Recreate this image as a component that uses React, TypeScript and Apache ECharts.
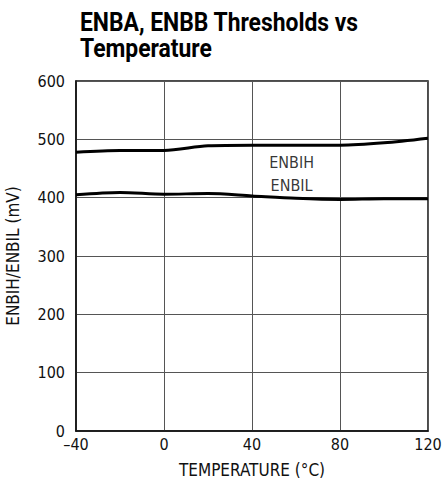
import React, { useEffect, useRef } from "react";
import * as echarts from "echarts";

const temps = [-40, -20, 0, 20, 40, 60, 80, 100, 120];
const enbih = [478, 481, 481, 489, 490, 490, 490, 494, 502];
const enbil = [405, 409, 406, 407, 403, 399, 397, 398, 398];
const xTicks = { min: -40, max: 120, interval: 40 };
const yTicks = { min: 0, max: 600, interval: 100 };
const seriesLabels = ["ENBIH", "ENBIL"];
const labelPos = [[58, 461], [58, 421]];
const titleLines = ["ENBA, ENBB Thresholds vs", "Temperature"];

const FONT = "'Liberation Sans Narrow', 'DejaVu Sans Condensed', 'Roboto', sans-serif";
const TFONT = "Roboto, 'Noto Sans', sans-serif";

export default function App() {
  const ref = useRef<HTMLDivElement>(null);
  useEffect(() => {
    const chart = echarts.init(ref.current!, null, { renderer: "svg" });
    chart.setOption({
      animation: false,
      backgroundColor: "#fff",
      textStyle: { fontFamily: FONT, color: "#000" },
      graphic: titleLines.map((t, i) => ({
        type: "text",
        x: 80,
        y: 9 + i * 26,
        scaleX: 0.88,
        style: {
          text: t,
          fontFamily: TFONT,
          fontWeight: "bold",
          fontSize: 26,
          fill: "#000",
          textVerticalAlign: "top",
        },
      })),
      grid: {
        left: 76, right: 14, top: 81, bottom: 58,
        outerBoundsMode: "none", containLabel: false,
        show: true, borderColor: "#111", borderWidth: 1.5,
      },
      xAxis: {
        type: "value",
        ...xTicks,
        name: "TEMPERATURE (°C)",
        nameLocation: "middle",
        nameGap: 30,
        nameTextStyle: { fontFamily: FONT, fontSize: 17, color: "#111" },
        axisLine: { show: true, onZero: false, lineStyle: { color: "#111", width: 1.5 } },
        axisTick: { show: false },
        axisLabel: {
          fontFamily: FONT, fontSize: 16, color: "#111", margin: 5,
          formatter: (v: number) => (v < 0 ? "\u2013" + Math.abs(v) : String(v)),
        },
        splitLine: { show: true, lineStyle: { color: "#555", width: 1 } },
      },
      yAxis: {
        type: "value",
        ...yTicks,
        name: "ENBIH/ENBIL (mV)",
        nameLocation: "middle",
        nameGap: 55,
        nameTextStyle: { fontFamily: FONT, fontSize: 17, color: "#111" },
        axisLine: { show: true, onZero: false, lineStyle: { color: "#111", width: 1.5 } },
        axisTick: { show: false },
        axisLabel: { fontFamily: FONT, fontSize: 16, color: "#111", margin: 11 },
        splitLine: { show: true, lineStyle: { color: "#555", width: 1 } },
      },
      series: [
        {
          name: seriesLabels[0],
          type: "line",
          data: temps.map((t, i) => [t, enbih[i]]),
          smooth: 0.3,
          symbol: "none",
          lineStyle: { color: "#000", width: 3 },
        },
        {
          name: seriesLabels[1],
          type: "line",
          data: temps.map((t, i) => [t, enbil[i]]),
          smooth: 0.3,
          symbol: "none",
          lineStyle: { color: "#000", width: 3 },
        },
        {
          type: "scatter",
          symbolSize: 0,
          silent: true,
          data: seriesLabels.map((s, i) => ({ value: labelPos[i], name: s })),
          label: {
            show: true,
            position: "inside",
            formatter: (p: any) => p.name,
            fontFamily: FONT,
            fontSize: 16,
            color: "#000",
            textBorderWidth: 0,
          },
        },
      ],
    });
    return () => chart.dispose();
  }, []);
  return <div ref={ref} style={{ position: "fixed", left: 0, top: 0, width: 442, height: 489 }} />;
}
